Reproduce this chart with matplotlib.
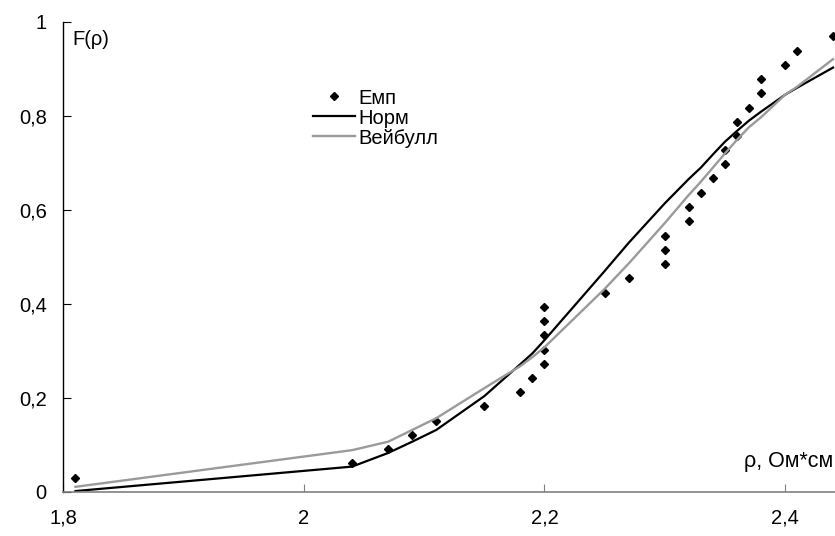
import numpy as np
import matplotlib
matplotlib.use('Agg')
import matplotlib.pyplot as plt

plt.rcParams['font.family'] = ['Liberation Sans', 'DejaVu Sans']

# эмпирическая функция распределения
emp_x = [1.81, 2.04, 2.07, 2.09, 2.11, 2.15, 2.18, 2.19, 2.20, 2.20, 2.20, 2.20, 2.20,
         2.25, 2.27, 2.30, 2.30, 2.30, 2.32, 2.32, 2.33, 2.34, 2.35, 2.35, 2.36, 2.36,
         2.37, 2.38, 2.38, 2.40, 2.41, 2.44]
emp_y = [0.030, 0.061, 0.091, 0.121, 0.152, 0.182, 0.212, 0.242, 0.273, 0.303, 0.333,
         0.364, 0.394, 0.424, 0.455, 0.485, 0.515, 0.545, 0.576, 0.606, 0.636, 0.667,
         0.697, 0.727, 0.758, 0.788, 0.818, 0.848, 0.879, 0.909, 0.939, 0.970]

# теоретические кривые в точках выборки
fit_x = [1.81, 2.04, 2.07, 2.09, 2.11, 2.15, 2.18, 2.19, 2.20, 2.25, 2.27,
         2.30, 2.32, 2.33, 2.34, 2.35, 2.36, 2.37, 2.38, 2.40, 2.41, 2.44]
norm_y = [0.002, 0.054, 0.083, 0.107, 0.132, 0.204, 0.272, 0.295, 0.323, 0.470, 0.530,
          0.614, 0.666, 0.690, 0.718, 0.745, 0.768, 0.790, 0.809, 0.845, 0.860, 0.903]
weib_y = [0.011, 0.089, 0.107, 0.132, 0.157, 0.221, 0.268, 0.287, 0.308, 0.432, 0.486,
          0.572, 0.632, 0.660, 0.690, 0.720, 0.749, 0.776, 0.797, 0.845, 0.862, 0.921]

x_ticks = [1.8, 2.0, 2.2, 2.4]
x_labels = ['1,8', '2', '2,2', '2,4']
y_ticks = [0, 0.2, 0.4, 0.6, 0.8, 1.0]
y_labels = ['0', '0,2', '0,4', '0,6', '0,8', '1']

fs = 14.5

fig = plt.figure(figsize=(8.35, 5.36), dpi=100)
ax = fig.add_axes([0.076, 0.0821, 0.924, 0.8769])

ax.plot(emp_x, emp_y, 'D', color='black', markersize=3.6, label='Емп')
ax.plot(fit_x, norm_y, '-', color='black', lw=1.6, label='Норм')
ax.plot(fit_x, weib_y, '-', color='#9a9a9a', lw=1.7, label='Вейбулл')

ax.set_xlim(1.8, 2.4416)
ax.set_ylim(0, 1)
ax.set_xticks(x_ticks)
ax.set_xticklabels(x_labels)
ax.set_yticks(y_ticks)
ax.set_yticklabels(y_labels)
ax.tick_params(axis='both', direction='in', length=6, labelsize=fs)
ax.tick_params(axis='x', pad=12, color='#808080')
ax.tick_params(axis='y', pad=12)

for s in ['top', 'right']:
    ax.spines[s].set_visible(False)
ax.spines['bottom'].set_color('#808080')
ax.spines['bottom'].set_linewidth(1.2)
ax.spines['left'].set_linewidth(1.0)

ax.text(1.807, 0.962, 'F(ρ)', fontsize=fs, va='center', ha='left')
ax.text(2.366, 0.064, 'ρ, Ом*см', fontsize=15.5, va='center', ha='left', clip_on=False)

ax.legend(loc='upper left', bbox_to_anchor=(313 / 835, 1 - 88.5 / 536),
          bbox_transform=fig.transFigure, frameon=False, fontsize=fs,
          borderpad=0, borderaxespad=0, handlelength=2.1, handletextpad=0.15,
          labelspacing=0.05, numpoints=1)

fig.savefig('out.png', dpi=100)
